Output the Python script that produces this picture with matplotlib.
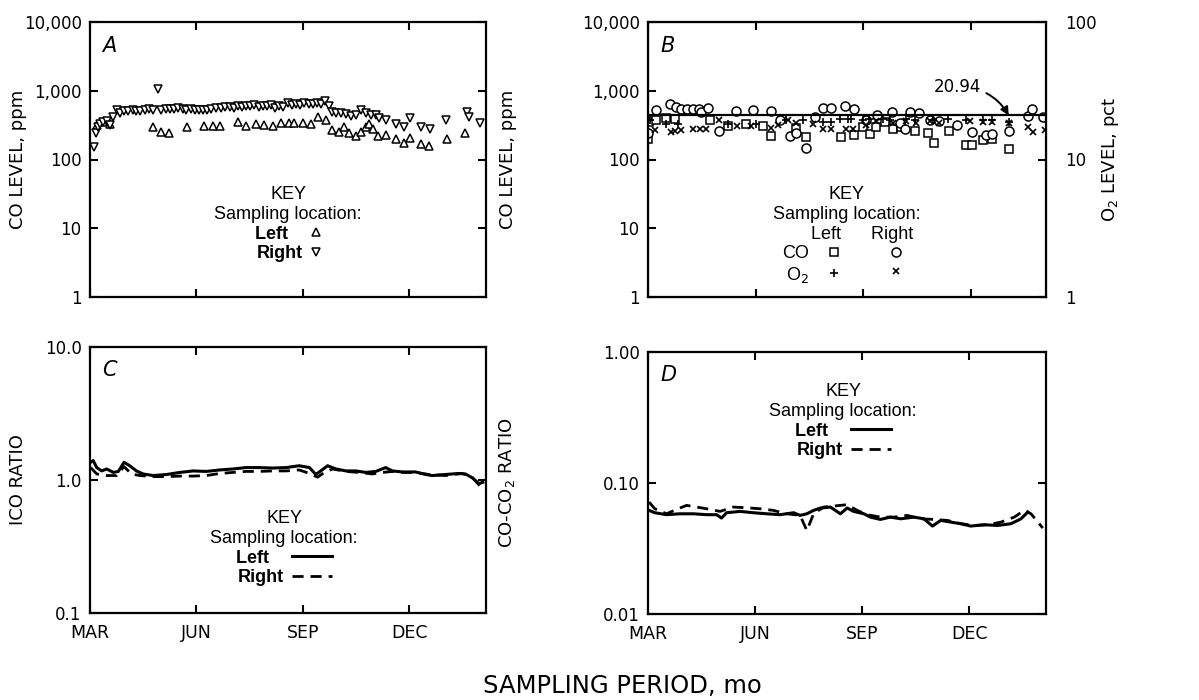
import matplotlib
matplotlib.use('Agg')
import numpy as np
from matplotlib import pyplot as plt
from matplotlib.ticker import FixedLocator, FixedFormatter, NullLocator

# ---- data (x in months after 1 March) ----
MONTH_TICKS = [0, 3, 6, 9]
MONTH_LABELS = ['MAR', 'JUN', 'SEP', 'DEC']

# A: CO level, ppm
a_right_m = [0.11, 0.16, 0.22, 0.28, 0.37, 0.49, 0.56, 0.66, 0.75, 0.84, 0.96, 1.08, 1.20, 1.31,
             1.42, 1.55, 1.67, 1.78, 1.92, 2.01, 2.13, 2.25, 2.36, 2.48, 2.61, 2.72, 2.84, 2.95,
             3.07, 3.19, 3.30, 3.42, 3.56, 3.70, 3.82, 3.94, 4.06, 4.17, 4.29, 4.40, 4.52, 4.64,
             4.76, 4.87, 4.99, 5.11, 5.23, 5.34, 5.45, 5.58, 5.70, 5.81, 5.93, 6.05, 6.17, 6.28,
             6.40, 6.51, 6.64, 6.73, 6.84, 6.95, 7.08, 7.22, 7.36, 7.50, 7.64, 7.78, 7.92, 8.06,
             8.15, 8.36, 8.62, 8.86, 9.04, 9.35, 9.58, 10.05, 10.62, 10.70, 11.01]
a_right_ppm = [150, 240, 300, 330, 350, 360, 320, 420, 530, 480, 510, 500, 520, 500,
               510, 530, 540, 520, 1070, 530, 540, 550, 540, 560, 540, 530, 540, 530,
               520, 530, 520, 550, 560, 570, 580, 590, 570, 600, 590, 610, 600, 620,
               590, 610, 600, 630, 560, 600, 590, 660, 620, 650, 620, 670, 640, 650,
               670, 640, 700, 600, 490, 480, 470, 460, 430, 440, 520, 480, 440, 450,
               400, 380, 330, 300, 400, 300, 280, 380, 490, 410, 340]
a_left_m = [0.19, 0.38, 0.56, 1.78, 1.99, 2.22, 2.75, 3.21, 3.47, 3.68, 4.17, 4.40, 4.67, 4.92,
            5.15, 5.39, 5.62, 5.76, 6.00, 6.23, 6.42, 6.65, 6.84, 7.03, 7.17, 7.31, 7.50, 7.64,
            7.78, 7.87, 7.97, 8.11, 8.34, 8.62, 8.86, 9.04, 9.33, 9.56, 10.08, 10.59]
a_left_ppm = [320, 350, 330, 296, 253, 240, 296, 302, 302, 311, 356, 302, 328, 321,
              311, 335, 345, 345, 335, 328, 412, 371, 267, 253, 296, 245, 221, 253,
              296, 328, 281, 217, 228, 200, 176, 206, 168, 159, 196, 240]

# B: CO level (ppm) and O2 level (pct)
b_co_left_m = [0.0, 0.02, 0.21, 0.49, 0.74, 1.72, 2.23, 2.72, 3.20, 3.43, 4.13, 4.39, 5.39, 5.73,
               5.99, 6.19, 6.36, 6.59, 6.82, 7.06, 7.43, 7.80, 7.97, 8.38, 8.87, 9.03, 9.33, 9.59,
               10.06]
b_co_left_ppm = [200, 355, 370, 405, 390, 370, 310, 330, 305, 220, 290, 210, 210, 230,
                 300, 235, 295, 355, 275, 300, 260, 240, 175, 260, 165, 160, 190, 200,
                 140]
b_co_right_m = [0.0, 0.21, 0.62, 0.77, 0.93, 1.09, 1.25, 1.42, 1.49, 1.67, 1.98, 2.44, 2.92, 3.43,
                3.67, 3.95, 4.13, 4.41, 4.64, 4.87, 5.11, 5.48, 5.73, 6.08, 6.38, 6.81, 7.01, 7.15,
                7.31, 7.55, 7.85, 8.12, 8.61, 9.03, 9.41, 9.59, 10.06, 10.58, 10.71, 11.02]
b_co_right_ppm = [245, 520, 640, 575, 550, 550, 550, 550, 490, 565, 260, 510, 520, 510,
                  380, 220, 245, 145, 415, 565, 565, 600, 550, 375, 440, 485, 340, 280,
                  485, 470, 375, 365, 320, 250, 225, 235, 260, 435, 535, 415]
b_o2_left_m = [0.05, 0.51, 0.84, 2.23, 3.02, 3.85, 4.32, 4.87, 5.11, 5.34, 5.57, 5.66, 5.99, 6.17,
               6.55, 6.73, 7.20, 7.43, 7.94, 8.36, 8.87, 9.33, 9.59, 10.06]
b_o2_left_pct = [19.3, 18.2, 18.2, 18.0, 18.0, 19.3, 19.3, 18.7, 18.7, 19.8, 19.6, 19.6, 19.4, 19.6,
                 19.8, 19.3, 19.8, 19.4, 19.4, 19.8, 19.4, 19.3, 19.3, 18.7]
b_o2_right_m = [0.19, 0.65, 0.74, 0.93, 1.25, 1.44, 1.62, 1.97, 2.48, 2.88, 3.44, 3.62, 3.90, 4.13,
                4.60, 4.87, 5.11, 5.52, 5.71, 6.08, 6.36, 6.82, 7.20, 7.47, 7.85, 8.12, 8.96, 9.33,
                9.59, 10.06, 10.58, 10.72, 11.07]
b_o2_right_pct = [16.3, 15.8, 16.1, 16.5, 16.8, 16.8, 16.8, 19.3, 17.4, 17.4, 17.0, 17.7, 19.4, 18.5,
                  18.2, 16.8, 16.8, 16.8, 16.8, 17.7, 19.1, 18.5, 19.1, 18.5, 19.1, 18.5, 19.1, 18.7,
                  18.7, 18.5, 17.2, 15.8, 16.3]
O2_AIR = 20.94

# C: ICO ratio
c_left_m = [0.02, 0.09, 0.19, 0.33, 0.47, 0.66, 0.80, 0.96, 1.12, 1.31, 1.50, 1.78, 2.16, 2.53,
            2.91, 3.28, 3.66, 4.03, 4.40, 4.78, 5.15, 5.53, 5.90, 6.19, 6.37, 6.51, 6.70, 6.94,
            7.22, 7.50, 7.78, 8.06, 8.34, 8.53, 8.81, 9.18, 9.47, 9.65, 10.03, 10.40, 10.59,
            10.78, 10.97, 11.08]
c_left = [1.36, 1.40, 1.24, 1.17, 1.21, 1.14, 1.16, 1.36, 1.28, 1.17, 1.11, 1.08, 1.10, 1.14,
          1.17, 1.16, 1.19, 1.21, 1.24, 1.24, 1.23, 1.24, 1.28, 1.24, 1.10, 1.17, 1.28, 1.21,
          1.17, 1.17, 1.14, 1.16, 1.24, 1.17, 1.15, 1.15, 1.10, 1.08, 1.10, 1.12, 1.11,
          1.04, 0.94, 0.96]
c_right_m = [0.02, 0.19, 0.47, 0.75, 0.96, 1.17, 1.41, 1.78, 2.16, 2.53, 2.91, 3.28, 3.66, 4.03,
             4.40, 4.78, 5.15, 5.53, 5.90, 6.19, 6.42, 6.61, 6.84, 7.22, 7.59, 7.97, 8.25, 8.53,
             8.81, 9.18, 9.56, 10.03, 10.50, 10.78, 10.97, 11.08]
c_right = [1.24, 1.11, 1.08, 1.08, 1.26, 1.11, 1.08, 1.06, 1.06, 1.07, 1.07, 1.08, 1.12, 1.14,
           1.16, 1.16, 1.17, 1.17, 1.19, 1.12, 1.05, 1.14, 1.21, 1.16, 1.14, 1.11, 1.14, 1.16,
           1.14, 1.14, 1.10, 1.08, 1.12, 1.05, 0.92, 0.83]

# D: CO-CO2 ratio
d_left_m = [0.03, 0.19, 0.52, 0.89, 1.27, 1.64, 1.92, 2.06, 2.20, 2.58, 2.95, 3.33, 3.70, 4.08,
            4.26, 4.45, 4.64, 4.83, 5.11, 5.39, 5.58, 5.76, 6.05, 6.23, 6.51, 6.79, 7.08, 7.45,
            7.73, 7.97, 8.20, 8.48, 8.76, 9.04, 9.42, 9.79, 10.17, 10.45, 10.64]
d_left = [0.0618, 0.0593, 0.0573, 0.0582, 0.0582, 0.0573, 0.0573, 0.054, 0.0593, 0.0607, 0.0593,
          0.0582, 0.0573, 0.0593, 0.0566, 0.0582, 0.0618, 0.0644, 0.0655, 0.0582, 0.0644, 0.0607,
          0.0582, 0.0549, 0.0527, 0.0549, 0.0533, 0.0549, 0.0533, 0.0469, 0.0518, 0.0503, 0.0489,
          0.0469, 0.048, 0.0474, 0.0489, 0.0533, 0.060]
d_right_m = [0.03, 0.19, 0.52, 0.80, 1.08, 1.36, 1.64, 2.02, 2.39, 2.76, 3.14, 3.51, 3.89, 4.26,
             4.45, 4.64, 4.92, 5.20, 5.58, 5.86, 6.14, 6.51, 6.89, 7.26, 7.64, 8.01, 8.39, 8.76,
             9.14, 9.51, 9.89, 10.26, 10.54, 10.73, 11.06]
d_right = [0.0715, 0.0636, 0.0582, 0.0629, 0.0675, 0.0655, 0.0636, 0.0607, 0.0655, 0.0647, 0.0636,
           0.0618, 0.0582, 0.0566, 0.0434, 0.0582, 0.0655, 0.0667, 0.0683, 0.0618, 0.0573, 0.0549,
           0.0549, 0.0566, 0.0533, 0.0527, 0.0518, 0.0489, 0.0474, 0.048, 0.0503, 0.0549, 0.0618,
           0.0582, 0.0453]

plt.rcParams['font.family'] = 'DejaVu Sans'
plt.rcParams['font.size'] = 12

KEY_FONT = dict(family='Liberation Sans', size=13, weight='bold')
KEY_TITLE_FONT = dict(family='Liberation Sans', size=13)

W, H = 1199, 700
fig = plt.figure(figsize=[W / 100, H / 100], dpi=100)


def box(l, t, r, b):
    return [l / W, 1 - b / H, (r - l) / W, (b - t) / H]


def style(ax, xmax, yticks, ylabels, xlabels=False):
    ax.set_yscale('log')
    ax.set_xlim(0, xmax)
    ax.set_ylim(yticks[0], yticks[-1])
    ax.xaxis.set_major_locator(FixedLocator(MONTH_TICKS))
    if xlabels:
        ax.xaxis.set_major_formatter(FixedFormatter(MONTH_LABELS))
    else:
        ax.set_xticklabels([])
    ax.yaxis.set_major_locator(FixedLocator(yticks))
    ax.yaxis.set_major_formatter(FixedFormatter(ylabels))
    ax.yaxis.set_minor_locator(NullLocator())
    ax.xaxis.set_minor_locator(NullLocator())
    ax.tick_params(direction='in', length=6, width=1.5, top=True, right=True, labelsize=12, pad=6)
    ax.tick_params(axis='x', pad=8, labelsize=12.5)
    for s in ax.spines.values():
        s.set_linewidth(1.6)


def key(ax, handles, labels, anchor, title='KEY\nSampling location:', bold=True, **kw):
    prop = dict(KEY_FONT)
    if not bold:
        prop['weight'] = 'normal'
    lg = ax.legend(handles, labels, loc='upper center', bbox_to_anchor=anchor, frameon=False,
                   markerfirst=False, title=title, prop=prop, labelspacing=0.12,
                   title_fontproperties=KEY_TITLE_FONT, borderpad=0, **kw)
    lg._legend_box.align = 'center'
    lg._legend_box.sep = 2
    lg.get_title().set_multialignment('center')
    lg.get_title().set_linespacing(1.2)
    return lg


# ---- A ----
axA = fig.add_axes(box(90, 22, 486, 297))
style(axA, 11.17, [1, 10, 100, 1000, 10000], ['1', '10', '100', '1,000', '10,000'])
hl, = axA.plot(a_left_m, a_left_ppm, ls='none', marker='^', ms=6, mfc='white', mec='black', mew=1.1)
hr, = axA.plot(a_right_m, a_right_ppm, ls='none', marker='v', ms=6, mfc='white', mec='black', mew=1.1)
axA.set_ylabel('CO LEVEL, ppm', fontsize=13)
axA.yaxis.set_label_coords(-0.16, 0.5)
axA.text(0.03, 0.95, 'A', transform=axA.transAxes, fontsize=15, style='italic', va='top')
key(axA, [hl, hr], ['Left   ', 'Right'], (0.5, 0.435), handlelength=0.6, handletextpad=0.4)

# ---- B ----
axB = fig.add_axes(box(648, 22, 1046, 297))
style(axB, 11.09, [1, 10, 100, 1000, 10000], ['1', '10', '100', '1,000', '10,000'])
axB.tick_params(right=False)
h1, = axB.plot(b_co_left_m, b_co_left_ppm, ls='none', marker='s', ms=6, mfc='white', mec='black', mew=1.1)
h2, = axB.plot(b_co_right_m, b_co_right_ppm, ls='none', marker='o', ms=6.5, mfc='white', mec='black', mew=1.1)
axB.set_ylabel('CO LEVEL, ppm', fontsize=13)
axB.yaxis.set_label_coords(-0.33, 0.5)
axB.text(0.03, 0.95, 'B', transform=axB.transAxes, fontsize=15, style='italic', va='top')
axB2 = axB.twinx()
axB2.set_yscale('log')
axB2.set_ylim(1, 100)
axB2.yaxis.set_major_locator(FixedLocator([1, 10, 100]))
axB2.yaxis.set_major_formatter(FixedFormatter(['1', '10', '100']))
axB2.yaxis.set_minor_locator(NullLocator())
axB2.tick_params(direction='in', length=6, width=1.5, labelsize=12, pad=14)
h3, = axB2.plot(b_o2_left_m, b_o2_left_pct, ls='none', marker='+', ms=6, mec='black', mew=1.2)
h4, = axB2.plot(b_o2_right_m, b_o2_right_pct, ls='none', marker='x', ms=4.5, mec='black', mew=1.2)
axB2.axhline(O2_AIR, color='black', lw=1.6)
axB2.annotate(f'{O2_AIR:.2f}', xy=(10.05, O2_AIR), xytext=(8.62, 33.5), ha='center', va='center',
              fontsize=12, arrowprops=dict(arrowstyle='-|>', connectionstyle='arc3,rad=-0.3',
                                           lw=1.4, color='black', shrinkA=2, shrinkB=0))
axB2.set_ylabel('O$_2$ LEVEL, pct', fontsize=13)
axB2.yaxis.set_label_coords(1.135, 0.5)
key(axB2, [h1, h3, h2, h4], ['CO', 'O$_2$', '', ''], (0.5, 0.435), bold=False, ncol=2,
    handlelength=1.72, handletextpad=0.5, columnspacing=1.22,
    title='KEY\nSampling location:\n      Left      Right')

# ---- C ----
axC = fig.add_axes(box(90, 347, 486, 613))
style(axC, 11.17, [0.1, 1, 10], ['0.1', '1.0', '10.0'], xlabels=True)
l1, = axC.plot(c_left_m, c_left, color='black', lw=2.2)
l2, = axC.plot(c_right_m, c_right, color='black', lw=2.0, ls=(0, (4, 2.5)))
axC.set_ylabel('ICO RATIO', fontsize=13)
axC.yaxis.set_label_coords(-0.16, 0.5)
axC.text(0.03, 0.95, 'C', transform=axC.transAxes, fontsize=15, style='italic', va='top')
key(axC, [l1, l2], ['Left   ', 'Right'], (0.49, 0.42), handlelength=2.2, handletextpad=0.45)

# ---- D ----
axD = fig.add_axes(box(648, 352, 1046, 614))
style(axD, 11.15, [0.01, 0.1, 1], ['0.01', '0.10', '1.00'], xlabels=True)
l3, = axD.plot(d_left_m, d_left, color='black', lw=2.2)
l4, = axD.plot(d_right_m, d_right, color='black', lw=2.0, ls=(0, (4, 2.5)))
axD.set_ylabel('CO-CO$_2$ RATIO', fontsize=13)
axD.yaxis.set_label_coords(-0.33, 0.5)
axD.text(0.03, 0.95, 'D', transform=axD.transAxes, fontsize=15, style='italic', va='top')
key(axD, [l3, l4], ['Left   ', 'Right'], (0.49, 0.915), handlelength=2.2, handletextpad=0.45)

fig.text(622 / W, 1 - 693 / H, 'SAMPLING PERIOD, mo', ha='center', va='baseline', fontsize=17.5)

fig.savefig('out.png', dpi=100)
